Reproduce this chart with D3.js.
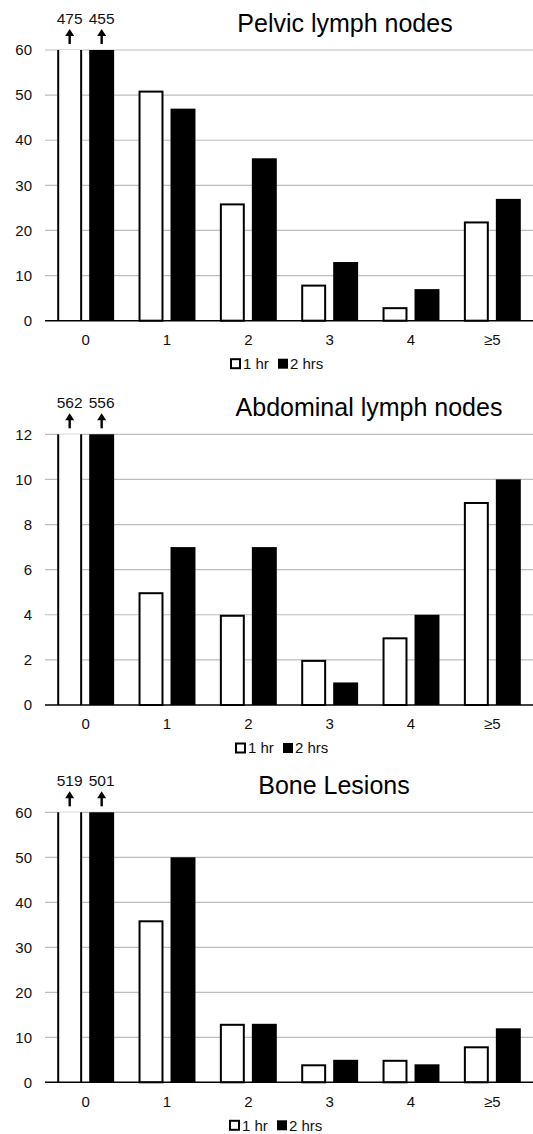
<!DOCTYPE html>
<html>
<head>
<meta charset="utf-8">
<script src="https://cdn.jsdelivr.net/npm/d3@7"></script>
<style>
  html, body { margin: 0; padding: 0; background: #fff; }
  svg { display: block; font-family: "Liberation Sans", Arial, sans-serif; }
</style>
</head>
<body>
<svg id="chart" width="533" height="1134"></svg>
<script>
// ---- data ----
const categories = ["0", "1", "2", "3", "4", "≥5"];
const seriesNames = ["1 hr", "2 hrs"];
const titles = ["Pelvic lymph nodes", "Abdominal lymph nodes", "Bone Lesions"];

const pelvic1hr = [475, 51, 26, 8, 3, 22];
const pelvic2hr = [455, 47, 36, 13, 7, 27];
const abdominal1hr = [562, 5, 4, 2, 3, 9];
const abdominal2hr = [556, 7, 7, 1, 4, 10];
const bone1hr = [519, 36, 13, 4, 5, 8];
const bone2hr = [501, 50, 13, 5, 4, 12];

const pelvicTicks = [0, 10, 20, 30, 40, 50, 60];
const abdominalTicks = [0, 2, 4, 6, 8, 10, 12];
const boneTicks = [0, 10, 20, 30, 40, 50, 60];

// ---- layout ----
const panels = [
  { title: titles[0], s1: pelvic1hr, s2: pelvic2hr, ticks: pelvicTicks, top: 50, bottom: 320.7, titleX: 345, legendX: 230 },
  { title: titles[1], s1: abdominal1hr, s2: abdominal2hr, ticks: abdominalTicks, top: 434.3, bottom: 705, titleX: 369, legendX: 235 },
  { title: titles[2], s1: bone1hr, s2: bone2hr, ticks: boneTicks, top: 812.3, bottom: 1082.3, titleX: 334, legendX: 229 }
];

const svg = d3.select("#chart");
const xLeft = 45, xRight = 533;
const textColor = "#111";

const x0 = d3.scaleBand().domain(categories).range([xLeft, xRight]).paddingInner(0.3).paddingOuter(0.15);
const x1 = d3.scaleBand().domain(seriesNames).range([0, x0.bandwidth()]).paddingInner(0.22);

panels.forEach(p => {
  const yMax = d3.max(p.ticks);
  const y = d3.scaleLinear().domain([0, yMax]).range([p.bottom, p.top]);
  const g = svg.append("g");

  // gridlines
  g.selectAll("line.grid").data(p.ticks.filter(t => t > 0)).join("line")
    .attr("x1", xLeft).attr("x2", xRight)
    .attr("y1", d => y(d)).attr("y2", d => y(d))
    .attr("stroke", "#bdbdbd").attr("stroke-width", 1.2);

  // y tick labels
  g.selectAll("text.ytick").data(p.ticks).join("text")
    .attr("x", 32).attr("y", d => y(d)).attr("dy", "0.35em")
    .attr("text-anchor", "end").attr("font-size", 15).attr("fill", textColor)
    .text(d => d);

  const rows = categories.map((c, i) => ({ cat: c, vals: [p.s1[i], p.s2[i]] }));

  rows.forEach(r => {
    r.vals.forEach((v, si) => {
      const capped = Math.min(v, yMax);
      const bx = x0(r.cat) + x1(seriesNames[si]);
      const bw = x1.bandwidth();
      const ty = y(capped), by = y(0);
      if (si === 0) {
        if (v > yMax) {
          g.append("rect").attr("x", bx).attr("y", ty).attr("width", bw).attr("height", by - ty).attr("fill", "#fff");
          g.append("line").attr("x1", bx + 1).attr("x2", bx + 1).attr("y1", ty).attr("y2", by).attr("stroke", "#000").attr("stroke-width", 2);
          g.append("line").attr("x1", bx + bw - 1).attr("x2", bx + bw - 1).attr("y1", ty).attr("y2", by).attr("stroke", "#000").attr("stroke-width", 2);
        } else {
          g.append("rect").attr("x", bx + 1).attr("y", ty + 1).attr("width", bw - 2).attr("height", Math.max(0, by - ty - 1))
            .attr("fill", "#fff").attr("stroke", "#000").attr("stroke-width", 2);
        }
      } else {
        g.append("rect").attr("x", bx).attr("y", ty).attr("width", bw).attr("height", by - ty).attr("fill", "#000");
      }
      if (v > yMax) {
        const cx = bx + bw / 2;
        // arrow
        g.append("line").attr("x1", cx).attr("x2", cx).attr("y1", p.top - 6).attr("y2", p.top - 16)
          .attr("stroke", "#000").attr("stroke-width", 2.4);
        g.append("path")
          .attr("d", `M${cx},${p.top - 21} L${cx - 4.5},${p.top - 14} L${cx + 4.5},${p.top - 14} Z`)
          .attr("fill", "#000");
        g.append("text").attr("x", cx).attr("y", p.top - 26.5)
          .attr("text-anchor", "middle").attr("font-size", 15.5).attr("fill", textColor)
          .text(v);
      }
    });
  });

  // baseline
  g.append("line").attr("x1", xLeft).attr("x2", xRight).attr("y1", y(0)).attr("y2", y(0))
    .attr("stroke", "#000").attr("stroke-width", 1.6);

  // x axis labels
  g.selectAll("text.xtick").data(categories).join("text")
    .attr("x", d => x0(d) + x0.bandwidth() / 2)
    .attr("y", p.bottom + 19).attr("dy", "0.35em")
    .attr("text-anchor", "middle").attr("font-size", 15).attr("fill", textColor)
    .text(d => d);

  // title
  g.append("text").attr("x", p.titleX).attr("y", p.top - 18.5)
    .attr("text-anchor", "middle").attr("font-size", 25).attr("fill", "#000")
    .text(p.title);

  // legend
  const ly = p.bottom + 43;
  const lg = g.append("g").attr("transform", `translate(${p.legendX},${ly})`);
  lg.append("rect").attr("x", 1).attr("y", -4.5).attr("width", 9).attr("height", 9)
    .attr("fill", "#fff").attr("stroke", "#000").attr("stroke-width", 2);
  lg.append("text").attr("x", 13).attr("y", 0).attr("dy", "0.35em").attr("font-size", 15).attr("fill", textColor).text(seriesNames[0]);
  lg.append("rect").attr("x", 48).attr("y", -5).attr("width", 10).attr("height", 10).attr("fill", "#000");
  lg.append("text").attr("x", 60).attr("y", 0).attr("dy", "0.35em").attr("font-size", 15).attr("fill", textColor).text(seriesNames[1]);
});
</script>
</body>
</html>
